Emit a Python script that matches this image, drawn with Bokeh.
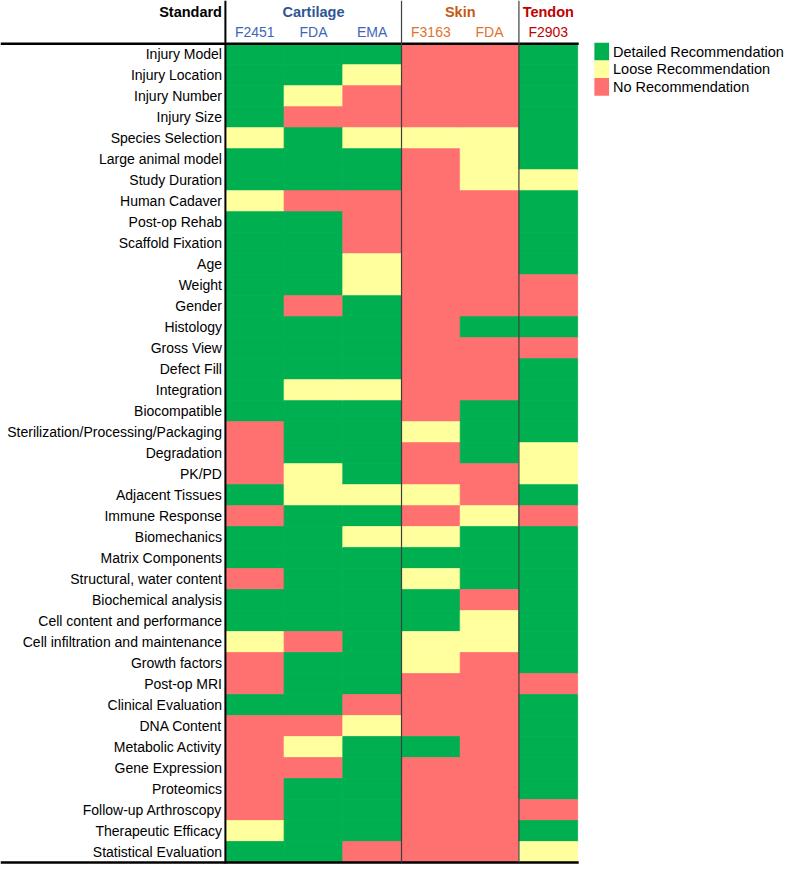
from bokeh.plotting import figure
from bokeh.models import Range1d, ColumnDataSource
from bokeh.core.properties import value
from bokeh.embed import file_html
from bokeh.resources import INLINE

# ---------------- data ----------------
standards = [
    "Injury Model", "Injury Location", "Injury Number", "Injury Size",
    "Species Selection", "Large animal model", "Study Duration", "Human Cadaver",
    "Post-op Rehab", "Scaffold Fixation", "Age", "Weight", "Gender", "Histology",
    "Gross View", "Defect Fill", "Integration", "Biocompatible",
    "Sterilization/Processing/Packaging", "Degradation", "PK/PD",
    "Adjacent Tissues", "Immune Response", "Biomechanics", "Matrix Components",
    "Structural, water content", "Biochemical analysis",
    "Cell content and performance", "Cell infiltration and maintenance",
    "Growth factors", "Post-op MRI", "Clinical Evaluation", "DNA Content",
    "Metabolic Activity", "Gene Expression", "Proteomics",
    "Follow-up Arthroscopy", "Therapeutic Efficacy", "Statistical Evaluation",
]

groups = ["Cartilage", "Skin", "Tendon"]
group_columns = [3, 2, 1]
column_labels = ["F2451", "FDA", "EMA", "F3163", "FDA", "F2903"]
column_group = ["Cartilage", "Cartilage", "Cartilage", "Skin", "Skin", "Tendon"]

# D = Detailed, L = Loose, N = No recommendation
cart_f2451 = list("DDDDLDDLDDDDDDDDDDNNNDNDDNDDLNNDNNNNNLD")
cart_fda   = list("DDLNDDDNDDDDNDDDLDDDLLDDDDDDNDDDNLNDDDD")
cart_ema   = list("DLNNLDDNNNLLDDDDLDDDDLDLDDDDDDDNLDDDDDN")
skin_f3163 = list("NNNNLNNNNNNNNNNNNNLNNLNLDLDDLLNNNDNNNNN")
skin_fda   = list("NNNNLLLNNNNNNDNNNDDDNNLDDDNLLNNNNNNNNNN")
tend_f2903 = list("DDDDDDLDDDDNNDNDDDDLLDNDDDDDDDNDDDDDNDL")
columns = [cart_f2451, cart_fda, cart_ema, skin_f3163, skin_fda, tend_f2903]

levels = ["D", "L", "N"]
level_labels = ["Detailed Recommendation", "Loose Recommendation", "No Recommendation"]

# ---------------- style ----------------
level_colors = {"D": "#00B050", "L": "#FFFF9E", "N": "#FF7070"}
group_colors = {"Cartilage": "#2F5597", "Skin": "#C55A11", "Tendon": "#C00000"}
sub_colors = {"Cartilage": "#3E66B8", "Skin": "#E0732C", "Tendon": "#C00000"}
FONT = value("Liberation Sans")

# reference-pixel layout helpers (figure is scaled to fit the window)
REF_W, REF_H = 800.0, 881.0
X0, CW = 229.5, 59.9      # grid left edge and column width (ref px)
Y0, RH = 44.0, 21.385     # grid top edge and row height (ref px)
def cx(px):
    return (px - X0) / CW
def ry(py):
    return (py - Y0) / RH

W, H = 784, 865
p = figure(width=W, height=H, output_backend="svg", toolbar_location=None,
           x_range=Range1d(cx(0), cx(REF_W)), y_range=Range1d(ry(REF_H), ry(0)),
           min_border=0, min_border_left=0, min_border_right=0,
           min_border_top=0, min_border_bottom=0)
p.axis.visible = False
p.xgrid.visible = False
p.ygrid.visible = False
p.outline_line_color = None
p.background_fill_color = "white"

# ---------------- cells ----------------
left, right, top, bottom, colors = [], [], [], [], []
for ci, col in enumerate(columns):
    assert len(col) == len(standards)
    for ri, code in enumerate(col):
        left.append(ci)
        right.append(ci + 1)
        top.append(ri)
        bottom.append(ri + 1)
        colors.append(level_colors[code])
src = ColumnDataSource(dict(left=left, right=right, top=top, bottom=bottom, color=colors))
p.quad(left="left", right="right", top="top", bottom="bottom", fill_color="color",
       line_color="color", line_width=0.8, source=src)

ncols = len(columns)
nrows = len(standards)

# ---------------- lines ----------------
p.segment(x0=[cx(0), cx(0)], y0=[0, nrows], x1=[cx(590), cx(590)], y1=[0, nrows],
          line_color="black", line_width=2.5)
p.segment(x0=[0], y0=[ry(0)], x1=[0], y1=[nrows + 0.05], line_color="black", line_width=2)
bounds = []
acc = 0
for n in group_columns[:-1]:
    acc += n
    bounds.append(acc)
p.segment(x0=bounds, y0=[ry(0)] * len(bounds), x1=bounds, y1=[nrows] * len(bounds),
          line_color="#404040", line_width=1.2)

# ---------------- texts ----------------
p.text(x=[cx(226)] * nrows, y=[r + 0.5 for r in range(nrows)], text=standards,
       text_font=FONT, text_font_size="14px", text_align="right",
       text_baseline="middle", text_color="black")

p.text(x=[cx(226)], y=[ry(12)], text=["Standard"], text_font=FONT,
       text_font_size="14.5px", text_font_style="bold", text_align="right",
       text_baseline="middle", text_color="black")

start = 0
gx, gc = [], []
for g, n in zip(groups, group_columns):
    gx.append(start + n / 2.0)
    gc.append(group_colors[g])
    start += n
p.text(x=gx, y=[ry(12)] * len(groups), text=groups, text_font=FONT,
       text_font_size="14.5px", text_font_style="bold", text_align="center",
       text_baseline="middle", text_color=gc)

p.text(x=[i + 0.5 for i in range(ncols)], y=[ry(32.5)] * ncols, text=column_labels,
       text_font=FONT, text_font_size="14px", text_align="center",
       text_baseline="middle", text_color=[sub_colors[g] for g in column_group])

# ---------------- legend ----------------
lg_top = [ry(43 + 18 * i) for i in range(len(levels))]
lg_bot = [ry(61 + 18 * i) for i in range(len(levels))]
p.quad(left=[cx(606)] * len(levels), right=[cx(621)] * len(levels), top=lg_top,
       bottom=lg_bot, fill_color=[level_colors[l] for l in levels], line_color=None)
p.text(x=[cx(625)] * len(levels), y=[(a + b) / 2 for a, b in zip(lg_top, lg_bot)],
       text=level_labels, text_font=FONT, text_font_size="14.5px", text_align="left",
       text_baseline="middle", text_color="black")

open("out.html", "w").write(file_html(p, INLINE))
